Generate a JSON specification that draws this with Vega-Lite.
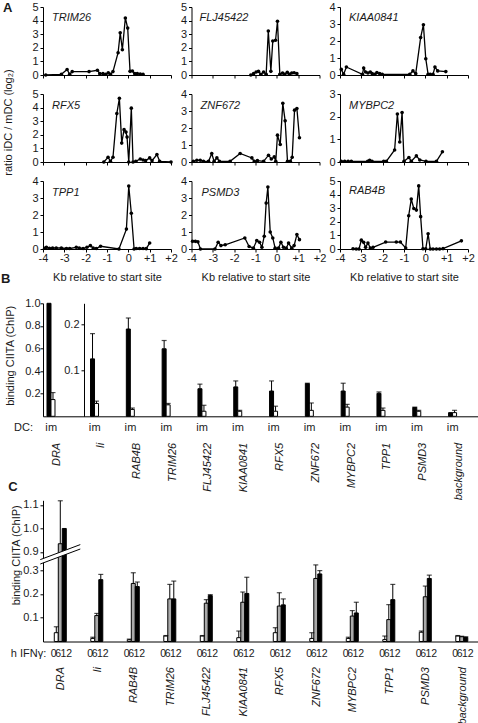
{
"$schema":"https://vega.github.io/schema/vega-lite/v6.json",
"padding":{"left":0,"top":1,"right":0,"bottom":0},
"background":"white",
"datasets":{
"names":[{"gene":"TRIM26"},{"gene":"FLJ45422"},{"gene":"KIAA0841"},{"gene":"RFX5"},{"gene":"ZNF672"},{"gene":"MYBPC2"},{"gene":"TPP1"},{"gene":"PSMD3"},{"gene":"RAB4B"}],
"lines":[
{"gene":"TRIM26","kb":-3.87,"r":0},{"gene":"TRIM26","kb":-3.14,"r":0.05},{"gene":"TRIM26","kb":-2.87,"r":0.4},{"gene":"TRIM26","kb":-2.75,"r":0.05},{"gene":"TRIM26","kb":-2.63,"r":0.25},{"gene":"TRIM26","kb":-1.84,"r":0.25},{"gene":"TRIM26","kb":-1.45,"r":0.35},{"gene":"TRIM26","kb":-1.34,"r":0.1},{"gene":"TRIM26","kb":-1.19,"r":0.1},{"gene":"TRIM26","kb":-1.06,"r":0.05},{"gene":"TRIM26","kb":-0.94,"r":0.17},{"gene":"TRIM26","kb":-0.84,"r":0.05},{"gene":"TRIM26","kb":-0.72,"r":0.25},{"gene":"TRIM26","kb":-0.48,"r":1.64},{"gene":"TRIM26","kb":-0.38,"r":3.1},{"gene":"TRIM26","kb":-0.28,"r":1.86},{"gene":"TRIM26","kb":-0.14,"r":4.19},{"gene":"TRIM26","kb":-0.03,"r":3.45},{"gene":"TRIM26","kb":0.08,"r":0.27},{"gene":"TRIM26","kb":0.19,"r":0.29},{"gene":"TRIM26","kb":0.3,"r":0.1},{"gene":"TRIM26","kb":0.42,"r":0.1},{"gene":"TRIM26","kb":0.56,"r":0.07},{"gene":"TRIM26","kb":0.69,"r":0.05},
{"gene":"FLJ45422","kb":-1.22,"r":0},{"gene":"FLJ45422","kb":-1.09,"r":0.1},{"gene":"FLJ45422","kb":-0.97,"r":0.22},{"gene":"FLJ45422","kb":-0.86,"r":0.27},{"gene":"FLJ45422","kb":-0.75,"r":0.05},{"gene":"FLJ45422","kb":-0.62,"r":0.22},{"gene":"FLJ45422","kb":-0.5,"r":0.05},{"gene":"FLJ45422","kb":-0.4,"r":3.24},{"gene":"FLJ45422","kb":-0.28,"r":0.27},{"gene":"FLJ45422","kb":-0.19,"r":2.5},{"gene":"FLJ45422","kb":-0.06,"r":2.55},{"gene":"FLJ45422","kb":0.03,"r":3.95},{"gene":"FLJ45422","kb":0.14,"r":0.05},{"gene":"FLJ45422","kb":0.27,"r":0.15},{"gene":"FLJ45422","kb":0.37,"r":0.05},{"gene":"FLJ45422","kb":0.49,"r":0.2},{"gene":"FLJ45422","kb":0.59,"r":0.05},{"gene":"FLJ45422","kb":0.7,"r":0.15},{"gene":"FLJ45422","kb":0.81,"r":0.17},{"gene":"FLJ45422","kb":0.94,"r":0.1},
{"gene":"KIAA0841","kb":-3.94,"r":0.33},{"gene":"KIAA0841","kb":-3.83,"r":0.04},{"gene":"KIAA0841","kb":-3.7,"r":0.47},{"gene":"KIAA0841","kb":-2.95,"r":0.04},{"gene":"KIAA0841","kb":-2.89,"r":0.41},{"gene":"KIAA0841","kb":-2.8,"r":0.18},{"gene":"KIAA0841","kb":-2.69,"r":0.12},{"gene":"KIAA0841","kb":-2.58,"r":0.18},{"gene":"KIAA0841","kb":-2.49,"r":0.08},{"gene":"KIAA0841","kb":-2.37,"r":0.04},{"gene":"KIAA0841","kb":-2.27,"r":0.14},{"gene":"KIAA0841","kb":-2.14,"r":0.08},{"gene":"KIAA0841","kb":-2.02,"r":0.04},{"gene":"KIAA0841","kb":-0.73,"r":0.04},{"gene":"KIAA0841","kb":-0.58,"r":0.24},{"gene":"KIAA0841","kb":-0.45,"r":0.08},{"gene":"KIAA0841","kb":-0.22,"r":2.2},{"gene":"KIAA0841","kb":-0.09,"r":2.96},{"gene":"KIAA0841","kb":0.02,"r":0.96},{"gene":"KIAA0841","kb":0.13,"r":0.04},{"gene":"KIAA0841","kb":0.23,"r":0.04},{"gene":"KIAA0841","kb":0.36,"r":0.04},{"gene":"KIAA0841","kb":0.45,"r":0.47},{"gene":"KIAA0841","kb":0.58,"r":0.24},{"gene":"KIAA0841","kb":0.96,"r":0.2},
{"gene":"RFX5","kb":-1.15,"r":0},{"gene":"RFX5","kb":-0.95,"r":0.35},{"gene":"RFX5","kb":-0.84,"r":0.05},{"gene":"RFX5","kb":-0.72,"r":0.35},{"gene":"RFX5","kb":-0.54,"r":3.56},{"gene":"RFX5","kb":-0.42,"r":4.68},{"gene":"RFX5","kb":-0.31,"r":1.39},{"gene":"RFX5","kb":-0.2,"r":2.38},{"gene":"RFX5","kb":-0.11,"r":2.2},{"gene":"RFX5","kb":-0.06,"r":1.83},{"gene":"RFX5","kb":0.02,"r":0},{"gene":"RFX5","kb":0.14,"r":3.96},{"gene":"RFX5","kb":0.22,"r":0},{"gene":"RFX5","kb":0.35,"r":0.05},{"gene":"RFX5","kb":0.56,"r":0.22},{"gene":"RFX5","kb":0.69,"r":0.15},{"gene":"RFX5","kb":0.81,"r":0.1},{"gene":"RFX5","kb":1.0,"r":0.3},{"gene":"RFX5","kb":1.11,"r":0.1},{"gene":"RFX5","kb":1.34,"r":0.55},{"gene":"RFX5","kb":1.47,"r":0.05},{"gene":"RFX5","kb":2.0,"r":0},
{"gene":"ZNF672","kb":-3.91,"r":0.04},{"gene":"ZNF672","kb":-3.75,"r":0.1},{"gene":"ZNF672","kb":-3.59,"r":0.1},{"gene":"ZNF672","kb":-3.44,"r":0.04},{"gene":"ZNF672","kb":-3.2,"r":0.04},{"gene":"ZNF672","kb":-3.05,"r":0.5},{"gene":"ZNF672","kb":-2.94,"r":0.04},{"gene":"ZNF672","kb":-2.81,"r":0.24},{"gene":"ZNF672","kb":-2.69,"r":0.04},{"gene":"ZNF672","kb":-2.19,"r":0.04},{"gene":"ZNF672","kb":-1.72,"r":0.5},{"gene":"ZNF672","kb":-1.17,"r":0.24},{"gene":"ZNF672","kb":-1.06,"r":0.04},{"gene":"ZNF672","kb":-0.91,"r":0.08},{"gene":"ZNF672","kb":-0.62,"r":0.04},{"gene":"ZNF672","kb":-0.39,"r":0.4},{"gene":"ZNF672","kb":-0.26,"r":0.18},{"gene":"ZNF672","kb":-0.12,"r":0.3},{"gene":"ZNF672","kb":-0.05,"r":0.04},{"gene":"ZNF672","kb":0.03,"r":1.58},{"gene":"ZNF672","kb":0.16,"r":1.03},{"gene":"ZNF672","kb":0.28,"r":3.45},{"gene":"ZNF672","kb":0.39,"r":2.42},{"gene":"ZNF672","kb":0.5,"r":0.04},{"gene":"ZNF672","kb":0.63,"r":0.04},{"gene":"ZNF672","kb":0.72,"r":0.28},{"gene":"ZNF672","kb":0.83,"r":3.05},{"gene":"ZNF672","kb":0.94,"r":3.15},{"gene":"ZNF672","kb":1.06,"r":1.43},
{"gene":"MYBPC2","kb":-3.94,"r":0.03},{"gene":"MYBPC2","kb":-3.78,"r":0.03},{"gene":"MYBPC2","kb":-3.62,"r":0.03},{"gene":"MYBPC2","kb":-3.47,"r":0.03},{"gene":"MYBPC2","kb":-2.7,"r":0.03},{"gene":"MYBPC2","kb":-2.61,"r":0.08},{"gene":"MYBPC2","kb":-2.5,"r":0.03},{"gene":"MYBPC2","kb":-1.95,"r":0.03},{"gene":"MYBPC2","kb":-1.83,"r":0.03},{"gene":"MYBPC2","kb":-1.44,"r":0.53},{"gene":"MYBPC2","kb":-1.31,"r":2.12},{"gene":"MYBPC2","kb":-1.2,"r":0.88},{"gene":"MYBPC2","kb":-1.09,"r":2.18},{"gene":"MYBPC2","kb":-1.0,"r":0.03},{"gene":"MYBPC2","kb":-0.77,"r":0.2},{"gene":"MYBPC2","kb":-0.66,"r":0.03},{"gene":"MYBPC2","kb":-0.42,"r":0.27},{"gene":"MYBPC2","kb":-0.26,"r":0.09},{"gene":"MYBPC2","kb":0.03,"r":0.03},{"gene":"MYBPC2","kb":0.52,"r":0.03},{"gene":"MYBPC2","kb":0.8,"r":0.45},
{"gene":"TPP1","kb":-3.92,"r":0.04},{"gene":"TPP1","kb":-3.84,"r":0.1},{"gene":"TPP1","kb":-3.7,"r":0.04},{"gene":"TPP1","kb":-3.55,"r":0.06},{"gene":"TPP1","kb":-3.38,"r":0.06},{"gene":"TPP1","kb":-3.14,"r":0.06},{"gene":"TPP1","kb":-2.9,"r":0.03},{"gene":"TPP1","kb":-2.75,"r":0.03},{"gene":"TPP1","kb":-2.44,"r":0.1},{"gene":"TPP1","kb":-2.3,"r":0.06},{"gene":"TPP1","kb":-2.12,"r":0.03},{"gene":"TPP1","kb":-1.94,"r":0.1},{"gene":"TPP1","kb":-1.78,"r":0.2},{"gene":"TPP1","kb":-1.65,"r":0.06},{"gene":"TPP1","kb":-1.5,"r":0.03},{"gene":"TPP1","kb":-1.3,"r":0.16},{"gene":"TPP1","kb":-0.44,"r":0},{"gene":"TPP1","kb":-0.09,"r":1.17},{"gene":"TPP1","kb":0.02,"r":3.7},{"gene":"TPP1","kb":0.14,"r":2.1},{"gene":"TPP1","kb":0.27,"r":0},{"gene":"TPP1","kb":0.37,"r":0.03},{"gene":"TPP1","kb":0.53,"r":0.03},{"gene":"TPP1","kb":0.69,"r":0.03},{"gene":"TPP1","kb":0.84,"r":0.02},{"gene":"TPP1","kb":1.0,"r":0.35},
{"gene":"PSMD3","kb":-3.95,"r":0.45},{"gene":"PSMD3","kb":-3.82,"r":0.45},{"gene":"PSMD3","kb":-3.7,"r":0.42},{"gene":"PSMD3","kb":-3.58,"r":0},{"gene":"PSMD3","kb":-2.9,"r":0},{"gene":"PSMD3","kb":-2.75,"r":0.4},{"gene":"PSMD3","kb":-2.62,"r":0.2},{"gene":"PSMD3","kb":-2.42,"r":0.25},{"gene":"PSMD3","kb":-1.5,"r":0.65},{"gene":"PSMD3","kb":-1.3,"r":0.15},{"gene":"PSMD3","kb":-1.1,"r":0.05},{"gene":"PSMD3","kb":-0.94,"r":0.5},{"gene":"PSMD3","kb":-0.81,"r":0.4},{"gene":"PSMD3","kb":-0.7,"r":0.1},{"gene":"PSMD3","kb":-0.59,"r":0.75},{"gene":"PSMD3","kb":-0.5,"r":2.7},{"gene":"PSMD3","kb":-0.42,"r":3.65},{"gene":"PSMD3","kb":-0.31,"r":1.0},{"gene":"PSMD3","kb":-0.19,"r":0.65},{"gene":"PSMD3","kb":-0.08,"r":0.05},{"gene":"PSMD3","kb":0.08,"r":0.05},{"gene":"PSMD3","kb":0.19,"r":0.4},{"gene":"PSMD3","kb":0.31,"r":0.1},{"gene":"PSMD3","kb":0.44,"r":0.05},{"gene":"PSMD3","kb":0.55,"r":0.35},{"gene":"PSMD3","kb":0.7,"r":0.05},{"gene":"PSMD3","kb":0.81,"r":0.2},{"gene":"PSMD3","kb":0.94,"r":0.85},{"gene":"PSMD3","kb":1.06,"r":0.55},
{"gene":"RAB4B","kb":-3.39,"r":0.02},{"gene":"RAB4B","kb":-3.24,"r":0},{"gene":"RAB4B","kb":-3.11,"r":0},{"gene":"RAB4B","kb":-3.0,"r":0.65},{"gene":"RAB4B","kb":-2.89,"r":0.49},{"gene":"RAB4B","kb":-2.8,"r":0.12},{"gene":"RAB4B","kb":-2.69,"r":0.44},{"gene":"RAB4B","kb":-2.58,"r":0.07},{"gene":"RAB4B","kb":-2.45,"r":0.12},{"gene":"RAB4B","kb":-1.86,"r":0.51},{"gene":"RAB4B","kb":-1.36,"r":0.51},{"gene":"RAB4B","kb":-1.17,"r":0.51},{"gene":"RAB4B","kb":-0.92,"r":0.07},{"gene":"RAB4B","kb":-0.78,"r":2.45},{"gene":"RAB4B","kb":-0.66,"r":3.67},{"gene":"RAB4B","kb":-0.54,"r":2.98},{"gene":"RAB4B","kb":-0.42,"r":2.86},{"gene":"RAB4B","kb":-0.31,"r":4.64},{"gene":"RAB4B","kb":-0.22,"r":2.38},{"gene":"RAB4B","kb":-0.11,"r":0.02},{"gene":"RAB4B","kb":0.02,"r":0.02},{"gene":"RAB4B","kb":0.13,"r":1.12},{"gene":"RAB4B","kb":0.23,"r":0},{"gene":"RAB4B","kb":0.36,"r":0},{"gene":"RAB4B","kb":0.52,"r":0},{"gene":"RAB4B","kb":0.67,"r":0},{"gene":"RAB4B","kb":0.83,"r":0.03},{"gene":"RAB4B","kb":1.69,"r":0.6}
],
"b":[
{"gene":"DRA","dc":"i","v":1.0,"hi":null},{"gene":"DRA","dc":"m","v":0.148,"hi":0.21},
{"gene":"Ii","dc":"i","v":0.125,"hi":0.18},{"gene":"Ii","dc":"m","v":0.028,"hi":0.033},
{"gene":"RAB4B","dc":"i","v":0.19,"hi":0.214},{"gene":"RAB4B","dc":"m","v":0.015,"hi":0.018},
{"gene":"TRIM26","dc":"i","v":0.147,"hi":0.165},{"gene":"TRIM26","dc":"m","v":0.025,"hi":0.028},
{"gene":"FLJ45422","dc":"i","v":0.06,"hi":0.07},{"gene":"FLJ45422","dc":"m","v":0.011,"hi":0.024},
{"gene":"KIAA0841","dc":"i","v":0.064,"hi":0.077},{"gene":"KIAA0841","dc":"m","v":0.011,"hi":0.013},
{"gene":"RFX5","dc":"i","v":0.055,"hi":0.077},{"gene":"RFX5","dc":"m","v":0.011,"hi":0.022},
{"gene":"ZNF672","dc":"i","v":0.071,"hi":0.072},{"gene":"ZNF672","dc":"m","v":0.013,"hi":0.029},
{"gene":"MYBPC2","dc":"i","v":0.055,"hi":0.072},{"gene":"MYBPC2","dc":"m","v":0.02,"hi":0.026},
{"gene":"TPP1","dc":"i","v":0.05,"hi":0.053},{"gene":"TPP1","dc":"m","v":0.013,"hi":0.018},
{"gene":"PSMD3","dc":"i","v":0.019,"hi":0.02},{"gene":"PSMD3","dc":"m","v":0.011,"hi":0.013},
{"gene":"background","dc":"i","v":0.008,"hi":null},{"gene":"background","dc":"m","v":0.008,"hi":0.013}
],
"c":[
{"gene":"DRA","h":"0","v":0.037,"hi":0.062},{"gene":"DRA","h":"6","v":0.935,"hi":1.118},{"gene":"DRA","h":"12","v":1.0,"hi":null},
{"gene":"Ii","h":"0","v":0.013,"hi":0.018},{"gene":"Ii","h":"6","v":0.109,"hi":0.118},{"gene":"Ii","h":"12","v":0.26,"hi":0.282},
{"gene":"RAB4B","h":"0","v":0.007,"hi":0.01},{"gene":"RAB4B","h":"6","v":0.244,"hi":0.289},{"gene":"RAB4B","h":"12","v":0.231,"hi":0.25},
{"gene":"TRIM26","h":"0","v":0.023,"hi":0.025},{"gene":"TRIM26","h":"6","v":0.179,"hi":0.24},{"gene":"TRIM26","h":"12","v":0.179,"hi":0.254},
{"gene":"FLJ45422","h":"0","v":0.023,"hi":0.025},{"gene":"FLJ45422","h":"6","v":0.161,"hi":0.176},{"gene":"FLJ45422","h":"12","v":0.193,"hi":0.197},
{"gene":"KIAA0841","h":"0","v":0.016,"hi":0.044},{"gene":"KIAA0841","h":"6","v":0.165,"hi":0.208},{"gene":"KIAA0841","h":"12","v":0.202,"hi":0.27},
{"gene":"RFX5","h":"0","v":0.037,"hi":0.058},{"gene":"RFX5","h":"6","v":0.149,"hi":0.205},{"gene":"RFX5","h":"12","v":0.154,"hi":0.179},
{"gene":"ZNF672","h":"0","v":0.013,"hi":0.037},{"gene":"ZNF672","h":"6","v":0.265,"hi":0.322},{"gene":"ZNF672","h":"12","v":0.284,"hi":0.298},
{"gene":"MYBPC2","h":"0","v":0.013,"hi":0.018},{"gene":"MYBPC2","h":"6","v":0.107,"hi":0.13},{"gene":"MYBPC2","h":"12","v":0.12,"hi":0.165},
{"gene":"TPP1","h":"0","v":0.008,"hi":0.023},{"gene":"TPP1","h":"6","v":0.092,"hi":0.155},{"gene":"TPP1","h":"12","v":0.176,"hi":0.24},
{"gene":"PSMD3","h":"0","v":0.039,"hi":0.044},{"gene":"PSMD3","h":"6","v":0.188,"hi":0.233},{"gene":"PSMD3","h":"12","v":0.265,"hi":0.279},
{"gene":"background","h":"0","v":0.023,"hi":0.025},{"gene":"background","h":"6","v":0.02,"hi":0.022},{"gene":"background","h":"12","v":0.017,"hi":0.02}
]
},
"vconcat":[
{
"concat":[
{"width":128,"height":68,"layer":[
{"data":{"name":"lines"},"transform":[{"filter":"datum.gene==='TRIM26'"}],"mark":{"type":"line","color":"#000","strokeWidth":1.3,"point":{"filled":true,"size":13,"color":"#000"}},"encoding":{"x":{"field":"kb","type":"quantitative","scale":{"domain":[-4,2],"nice":false,"zero":false},"axis":{"values":[-4,-3,-2,-1,0,1,2],"labels":false,"title":null}},"y":{"field":"r","type":"quantitative","scale":{"domain":[0,5],"nice":false},"axis":{"values":[0,1,2,3,4,5],"format":"d","title":null}}}},
{"data":{"name":"names"},"transform":[{"filter":"datum.gene==='TRIM26'"}],"mark":{"type":"text","align":"left","baseline":"alphabetic","dx":9,"dy":14,"fontStyle":"italic"},"encoding":{"x":{"datum":-4,"type":"quantitative","scale":{"domain":[-4,2],"nice":false,"zero":false},"axis":{"values":[-4,-3,-2,-1,0,1,2],"labels":false,"title":null}},"y":{"datum":5,"type":"quantitative","scale":{"domain":[0,5],"nice":false},"axis":{"values":[0,1,2,3,4,5],"format":"d","title":null}},"text":{"field":"gene"}}},
{"data":{"name":"names"},"transform":[{"filter":"datum.gene==='TRIM26'"}],"mark":{"type":"text","align":"left","baseline":"alphabetic","dx":-40,"dy":5,"fontWeight":"bold","fontSize":13},"encoding":{"x":{"datum":-4,"type":"quantitative","scale":{"domain":[-4,2],"nice":false,"zero":false},"axis":{"values":[-4,-3,-2,-1,0,1,2],"labels":false,"title":null}},"y":{"datum":5,"type":"quantitative","scale":{"domain":[0,5],"nice":false},"axis":{"values":[0,1,2,3,4,5],"format":"d","title":null}},"text":{"value":"A"}}}
]},
{"width":128,"height":68,"layer":[
{"data":{"name":"lines"},"transform":[{"filter":"datum.gene==='FLJ45422'"}],"mark":{"type":"line","color":"#000","strokeWidth":1.3,"point":{"filled":true,"size":13,"color":"#000"}},"encoding":{"x":{"field":"kb","type":"quantitative","scale":{"domain":[-4,2],"nice":false,"zero":false},"axis":{"values":[-4,-3,-2,-1,0,1,2],"labels":false,"title":null}},"y":{"field":"r","type":"quantitative","scale":{"domain":[0,5],"nice":false},"axis":{"values":[0,1,2,3,4,5],"format":"d","title":null}}}},
{"data":{"name":"names"},"transform":[{"filter":"datum.gene==='FLJ45422'"}],"mark":{"type":"text","align":"left","baseline":"alphabetic","dx":8,"dy":14,"fontStyle":"italic"},"encoding":{"x":{"datum":-4,"type":"quantitative","scale":{"domain":[-4,2],"nice":false,"zero":false},"axis":{"values":[-4,-3,-2,-1,0,1,2],"labels":false,"title":null}},"y":{"datum":5,"type":"quantitative","scale":{"domain":[0,5],"nice":false},"axis":{"values":[0,1,2,3,4,5],"format":"d","title":null}},"text":{"field":"gene"}}}
]},
{"width":128,"height":68,"layer":[
{"data":{"name":"lines"},"transform":[{"filter":"datum.gene==='KIAA0841'"}],"mark":{"type":"line","color":"#000","strokeWidth":1.3,"point":{"filled":true,"size":13,"color":"#000"}},"encoding":{"x":{"field":"kb","type":"quantitative","scale":{"domain":[-4,2],"nice":false,"zero":false},"axis":{"values":[-4,-3,-2,-1,0,1,2],"labels":false,"title":null}},"y":{"field":"r","type":"quantitative","scale":{"domain":[0,4],"nice":false},"axis":{"values":[0,1,2,3,4],"format":"d","title":null}}}},
{"data":{"name":"names"},"transform":[{"filter":"datum.gene==='KIAA0841'"}],"mark":{"type":"text","align":"left","baseline":"alphabetic","dx":9,"dy":14,"fontStyle":"italic"},"encoding":{"x":{"datum":-4,"type":"quantitative","scale":{"domain":[-4,2],"nice":false,"zero":false},"axis":{"values":[-4,-3,-2,-1,0,1,2],"labels":false,"title":null}},"y":{"datum":4,"type":"quantitative","scale":{"domain":[0,4],"nice":false},"axis":{"values":[0,1,2,3,4],"format":"d","title":null}},"text":{"field":"gene"}}}
]},
{"width":128,"height":68,"layer":[
{"data":{"name":"lines"},"transform":[{"filter":"datum.gene==='RFX5'"}],"mark":{"type":"line","color":"#000","strokeWidth":1.3,"point":{"filled":true,"size":13,"color":"#000"}},"encoding":{"x":{"field":"kb","type":"quantitative","scale":{"domain":[-4,2],"nice":false,"zero":false},"axis":{"values":[-4,-3,-2,-1,0,1,2],"labels":false,"title":null}},"y":{"field":"r","type":"quantitative","scale":{"domain":[0,5],"nice":false},"axis":{"values":[0,1,2,3,4,5],"format":"d","title":"ratio iDC / mDC (log₂)","titlePadding":18.5,"titleY":28}}}},
{"data":{"name":"names"},"transform":[{"filter":"datum.gene==='RFX5'"}],"mark":{"type":"text","align":"left","baseline":"alphabetic","dx":9,"dy":15,"fontStyle":"italic"},"encoding":{"x":{"datum":-4,"type":"quantitative","scale":{"domain":[-4,2],"nice":false,"zero":false},"axis":{"values":[-4,-3,-2,-1,0,1,2],"labels":false,"title":null}},"y":{"datum":5,"type":"quantitative","scale":{"domain":[0,5],"nice":false},"axis":{"values":[0,1,2,3,4,5],"format":"d","title":"ratio iDC / mDC (log₂)","titlePadding":18.5,"titleY":28}},"text":{"field":"gene"}}}
]},
{"width":128,"height":68,"layer":[
{"data":{"name":"lines"},"transform":[{"filter":"datum.gene==='ZNF672'"}],"mark":{"type":"line","color":"#000","strokeWidth":1.3,"point":{"filled":true,"size":13,"color":"#000"}},"encoding":{"x":{"field":"kb","type":"quantitative","scale":{"domain":[-4,2],"nice":false,"zero":false},"axis":{"values":[-4,-3,-2,-1,0,1,2],"labels":false,"title":null}},"y":{"field":"r","type":"quantitative","scale":{"domain":[0,4],"nice":false},"axis":{"values":[0,1,2,3,4],"format":"d","title":null}}}},
{"data":{"name":"names"},"transform":[{"filter":"datum.gene==='ZNF672'"}],"mark":{"type":"text","align":"left","baseline":"alphabetic","dx":9,"dy":15,"fontStyle":"italic"},"encoding":{"x":{"datum":-4,"type":"quantitative","scale":{"domain":[-4,2],"nice":false,"zero":false},"axis":{"values":[-4,-3,-2,-1,0,1,2],"labels":false,"title":null}},"y":{"datum":4,"type":"quantitative","scale":{"domain":[0,4],"nice":false},"axis":{"values":[0,1,2,3,4],"format":"d","title":null}},"text":{"field":"gene"}}}
]},
{"width":128,"height":68,"layer":[
{"data":{"name":"lines"},"transform":[{"filter":"datum.gene==='MYBPC2'"}],"mark":{"type":"line","color":"#000","strokeWidth":1.3,"point":{"filled":true,"size":13,"color":"#000"}},"encoding":{"x":{"field":"kb","type":"quantitative","scale":{"domain":[-4,2],"nice":false,"zero":false},"axis":{"values":[-4,-3,-2,-1,0,1,2],"labels":false,"title":null}},"y":{"field":"r","type":"quantitative","scale":{"domain":[0,3],"nice":false},"axis":{"values":[0,1,2,3],"format":"d","title":null}}}},
{"data":{"name":"names"},"transform":[{"filter":"datum.gene==='MYBPC2'"}],"mark":{"type":"text","align":"left","baseline":"alphabetic","dx":9,"dy":15,"fontStyle":"italic"},"encoding":{"x":{"datum":-4,"type":"quantitative","scale":{"domain":[-4,2],"nice":false,"zero":false},"axis":{"values":[-4,-3,-2,-1,0,1,2],"labels":false,"title":null}},"y":{"datum":3,"type":"quantitative","scale":{"domain":[0,3],"nice":false},"axis":{"values":[0,1,2,3],"format":"d","title":null}},"text":{"field":"gene"}}}
]},
{"width":128,"height":68,"layer":[
{"data":{"name":"lines"},"transform":[{"filter":"datum.gene==='TPP1'"}],"mark":{"type":"line","color":"#000","strokeWidth":1.3,"point":{"filled":true,"size":13,"color":"#000"}},"encoding":{"x":{"field":"kb","type":"quantitative","scale":{"domain":[-4,2],"nice":false,"zero":false},"axis":{"values":[-4,-3,-2,-1,0,1,2],"labelExpr":"datum.value > 0 ? '+' + datum.value : '' + datum.value","title":"Kb relative to start site","titlePadding":8,"labelPadding":0}},"y":{"field":"r","type":"quantitative","scale":{"domain":[0,4],"nice":false},"axis":{"values":[0,1,2,3,4],"format":"d","title":null}}}},
{"data":{"name":"names"},"transform":[{"filter":"datum.gene==='TPP1'"}],"mark":{"type":"text","align":"left","baseline":"alphabetic","dx":9,"dy":15,"fontStyle":"italic"},"encoding":{"x":{"datum":-4,"type":"quantitative","scale":{"domain":[-4,2],"nice":false,"zero":false},"axis":{"values":[-4,-3,-2,-1,0,1,2],"labelExpr":"datum.value > 0 ? '+' + datum.value : '' + datum.value","title":"Kb relative to start site","titlePadding":8,"labelPadding":0}},"y":{"datum":4,"type":"quantitative","scale":{"domain":[0,4],"nice":false},"axis":{"values":[0,1,2,3,4],"format":"d","title":null}},"text":{"field":"gene"}}}
]},
{"width":128,"height":68,"layer":[
{"data":{"name":"lines"},"transform":[{"filter":"datum.gene==='PSMD3'"}],"mark":{"type":"line","color":"#000","strokeWidth":1.3,"point":{"filled":true,"size":13,"color":"#000"}},"encoding":{"x":{"field":"kb","type":"quantitative","scale":{"domain":[-4,2],"nice":false,"zero":false},"axis":{"values":[-4,-3,-2,-1,0,1,2],"labelExpr":"datum.value > 0 ? '+' + datum.value : '' + datum.value","title":"Kb relative to start site","titlePadding":8,"labelPadding":0}},"y":{"field":"r","type":"quantitative","scale":{"domain":[0,4],"nice":false},"axis":{"values":[0,1,2,3,4],"format":"d","title":null}}}},
{"data":{"name":"names"},"transform":[{"filter":"datum.gene==='PSMD3'"}],"mark":{"type":"text","align":"left","baseline":"alphabetic","dx":10,"dy":15,"fontStyle":"italic"},"encoding":{"x":{"datum":-4,"type":"quantitative","scale":{"domain":[-4,2],"nice":false,"zero":false},"axis":{"values":[-4,-3,-2,-1,0,1,2],"labelExpr":"datum.value > 0 ? '+' + datum.value : '' + datum.value","title":"Kb relative to start site","titlePadding":8,"labelPadding":0}},"y":{"datum":4,"type":"quantitative","scale":{"domain":[0,4],"nice":false},"axis":{"values":[0,1,2,3,4],"format":"d","title":null}},"text":{"field":"gene"}}}
]},
{"width":128,"height":68,"layer":[
{"data":{"name":"lines"},"transform":[{"filter":"datum.gene==='RAB4B'"}],"mark":{"type":"line","color":"#000","strokeWidth":1.3,"point":{"filled":true,"size":13,"color":"#000"}},"encoding":{"x":{"field":"kb","type":"quantitative","scale":{"domain":[-4,2],"nice":false,"zero":false},"axis":{"values":[-4,-3,-2,-1,0,1,2],"labelExpr":"datum.value > 0 ? '+' + datum.value : '' + datum.value","title":"Kb relative to start site","titlePadding":8,"labelPadding":0}},"y":{"field":"r","type":"quantitative","scale":{"domain":[0,5],"nice":false},"axis":{"values":[0,1,2,3,4,5],"format":"d","title":null}}}},
{"data":{"name":"names"},"transform":[{"filter":"datum.gene==='RAB4B'"}],"mark":{"type":"text","align":"left","baseline":"alphabetic","dx":9,"dy":13,"fontStyle":"italic"},"encoding":{"x":{"datum":-4,"type":"quantitative","scale":{"domain":[-4,2],"nice":false,"zero":false},"axis":{"values":[-4,-3,-2,-1,0,1,2],"labelExpr":"datum.value > 0 ? '+' + datum.value : '' + datum.value","title":"Kb relative to start site","titlePadding":8,"labelPadding":0}},"y":{"datum":5,"type":"quantitative","scale":{"domain":[0,5],"nice":false},"axis":{"values":[0,1,2,3,4,5],"format":"d","title":null}},"text":{"field":"gene"}}}
]}
],
"columns":3,"bounds":"flush","spacing":{"row":19,"column":20.5}
},
{
"vconcat":[
{
"hconcat":[
{"width":41,"height":113,
"data":{"name":"b"},
"transform":[{"filter":"datum.gene==='DRA'"}],
"encoding":{
"x":{"field":"gene","type":"nominal","scale":{"domain":["DRA"],"paddingInner":0,"paddingOuter":0.525,"align":0.19},"axis":{"title":null,"labelAngle":270,"labelFontStyle":"italic","ticks":false,"labelPadding":26}},
"xOffset":{"field":"dc","type":"nominal","scale":{"domain":["i","m"],"paddingInner":0,"paddingOuter":0}},
"y":{"field":"v","type":"quantitative","scale":{"domain":[0,1],"nice":false},"axis":{"values":[0.2,0.4,0.6,0.8,1.0],"format":".1f","title":"binding CIITA (ChIP)","titlePadding":9,"titleY":52,"labelPadding":0}}
},
"layer":[
{"mark":{"type":"bar","stroke":"#000","strokeWidth":1},"encoding":{"fill":{"field":"dc","type":"nominal","scale":{"domain":["i","m"],"range":["#000","#fff"]},"legend":null}}},
{"transform":[{"filter":"isValid(datum.hi)"}],"mark":{"type":"rule","color":"#000","strokeWidth":1},"encoding":{"y2":{"field":"hi"}}},
{"transform":[{"filter":"isValid(datum.hi)"}],"mark":{"type":"tick","color":"#000","thickness":1.2,"size":5},"encoding":{"y":{"field":"hi","type":"quantitative","scale":{"domain":[0,1],"nice":false},"axis":{"values":[0.2,0.4,0.6,0.8,1.0],"format":".1f","title":"binding CIITA (ChIP)","titlePadding":9,"titleY":52,"labelPadding":0}}}},
{"transform":[{"filter":"datum.dc==='i'"}],"mark":{"type":"text","baseline":"middle","dy":12,"dx":-2.5},"encoding":{"y":{"datum":0,"type":"quantitative","scale":{"domain":[0,1],"nice":false},"axis":{"values":[0.2,0.4,0.6,0.8,1.0],"format":".1f","title":"binding CIITA (ChIP)","titlePadding":9,"titleY":52,"labelPadding":0}},"text":{"field":"dc"}}},
{"transform":[{"filter":"datum.dc==='m'"}],"mark":{"type":"text","baseline":"middle","dy":12,"dx":-0.5},"encoding":{"y":{"datum":0,"type":"quantitative","scale":{"domain":[0,1],"nice":false},"axis":{"values":[0.2,0.4,0.6,0.8,1.0],"format":".1f","title":"binding CIITA (ChIP)","titlePadding":9,"titleY":52,"labelPadding":0}},"text":{"field":"dc"}}},
{"transform":[{"filter":"datum.dc==='i'"}],"mark":{"type":"text","baseline":"middle","align":"right","dy":12,"dx":-16},"encoding":{"y":{"datum":0,"type":"quantitative","scale":{"domain":[0,1],"nice":false},"axis":{"values":[0.2,0.4,0.6,0.8,1.0],"format":".1f","title":"binding CIITA (ChIP)","titlePadding":9,"titleY":52,"labelPadding":0}},"text":{"value":"DC:"}}},
{"transform":[{"filter":"datum.dc==='i'"}],"mark":{"type":"text","baseline":"alphabetic","align":"left","dy":-20.5,"dx":-48,"fontWeight":"bold","fontSize":13},"encoding":{"y":{"datum":1,"type":"quantitative","scale":{"domain":[0,1],"nice":false},"axis":{"values":[0.2,0.4,0.6,0.8,1.0],"format":".1f","title":"binding CIITA (ChIP)","titlePadding":9,"titleY":52,"labelPadding":0}},"text":{"value":"B"}}}
]},
{"width":396,"height":113,
"data":{"name":"b"},
"transform":[{"filter":"datum.gene!=='DRA'"}],
"encoding":{
"x":{"field":"gene","type":"nominal","scale":{"domain":["Ii","RAB4B","TRIM26","FLJ45422","KIAA0841","RFX5","ZNF672","MYBPC2","TPP1","PSMD3","background"],"paddingInner":0.42,"paddingOuter":0.24,"align":0.38},"axis":{"title":null,"labelAngle":270,"labelFontStyle":"italic","ticks":false,"labelPadding":26}},
"xOffset":{"field":"dc","type":"nominal","scale":{"domain":["i","m"],"paddingInner":0,"paddingOuter":0}},
"y":{"field":"v","type":"quantitative","scale":{"domain":[0,0.246],"nice":false},"axis":{"values":[0.1,0.2],"format":".1f","title":null}}
},
"layer":[
{"mark":{"type":"bar","stroke":"#000","strokeWidth":1},"encoding":{"fill":{"field":"dc","type":"nominal","scale":{"domain":["i","m"],"range":["#000","#fff"]},"legend":null}}},
{"transform":[{"filter":"isValid(datum.hi)"}],"mark":{"type":"rule","color":"#000","strokeWidth":1},"encoding":{"y2":{"field":"hi"}}},
{"transform":[{"filter":"isValid(datum.hi)"}],"mark":{"type":"tick","color":"#000","thickness":1.2,"size":5},"encoding":{"y":{"field":"hi","type":"quantitative","scale":{"domain":[0,0.246],"nice":false},"axis":{"values":[0.1,0.2],"format":".1f","title":null}}}},
{"transform":[{"filter":"datum.dc==='i'"}],"mark":{"type":"text","baseline":"middle","dy":12,"dx":-2.5},"encoding":{"y":{"datum":0,"type":"quantitative","scale":{"domain":[0,0.246],"nice":false},"axis":{"values":[0.1,0.2],"format":".1f","title":null}},"text":{"field":"dc"}}},
{"transform":[{"filter":"datum.dc==='m'"}],"mark":{"type":"text","baseline":"middle","dy":12,"dx":-0.5},"encoding":{"y":{"datum":0,"type":"quantitative","scale":{"domain":[0,0.246],"nice":false},"axis":{"values":[0.1,0.2],"format":".1f","title":null}},"text":{"field":"dc"}}}
]}
],
"spacing":0,"bounds":"flush","resolve":{"scale":{"x":"independent","y":"independent"}}
},
{"width":438,"height":141.2,
"data":{"name":"c"},
"encoding":{
"x":{"field":"gene","type":"nominal","scale":{"domain":["DRA","Ii","RAB4B","TRIM26","FLJ45422","KIAA0841","RFX5","ZNF672","MYBPC2","TPP1","PSMD3","background"],"paddingInner":0.18,"paddingOuter":0.09},"axis":{"title":null,"labelAngle":270,"labelFontStyle":"italic","ticks":false,"labelPadding":25}},
"xOffset":{"field":"h","type":"nominal","scale":{"domain":["0","6","12"],"paddingInner":0,"paddingOuter":0}},
"y":{"field":"v","type":"quantitative","scale":{"domain":[0,0.33,0.87,1.12],"range":[141.2,62.7,58.7,0],"nice":false,"zero":false},"axis":{"values":[0.1,0.2,0.3,0.9,1.0,1.1],"format":".1f","title":"binding CIITA (ChIP)","titlePadding":1,"titleY":54.5}}
},
"layer":[
{"mark":{"type":"bar","stroke":"#000","strokeWidth":1},"encoding":{"color":{"field":"h","type":"nominal","scale":{"domain":["0","6","12"],"range":["#ffffff","#aaaaaa","#000000"]},"legend":null}}},
{"transform":[{"filter":"isValid(datum.hi)"}],"mark":{"type":"rule","color":"#000","strokeWidth":1},"encoding":{"y2":{"field":"hi"}}},
{"transform":[{"filter":"isValid(datum.hi)"}],"mark":{"type":"tick","color":"#000","thickness":1.2,"size":5},"encoding":{"y":{"field":"hi","type":"quantitative","scale":{"domain":[0,0.33,0.87,1.12],"range":[141.2,62.7,58.7,0],"nice":false,"zero":false},"axis":{"values":[0.1,0.2,0.3,0.9,1.0,1.1],"format":".1f","title":"binding CIITA (ChIP)","titlePadding":1,"titleY":54.5}}}},
{"transform":[{"filter":"datum.h==='0'"}],"mark":{"type":"text","baseline":"middle","dy":12,"dx":-2.5,"fontSize":10.5},"encoding":{"y":{"datum":0,"type":"quantitative","scale":{"domain":[0,0.33,0.87,1.12],"range":[141.2,62.7,58.7,0],"nice":false,"zero":false},"axis":{"values":[0.1,0.2,0.3,0.9,1.0,1.1],"format":".1f","title":"binding CIITA (ChIP)","titlePadding":1,"titleY":54.5}},"text":{"field":"h"}}},
{"transform":[{"filter":"datum.h==='6'"}],"mark":{"type":"text","baseline":"middle","dy":12,"dx":-2,"fontSize":10.5},"encoding":{"y":{"datum":0,"type":"quantitative","scale":{"domain":[0,0.33,0.87,1.12],"range":[141.2,62.7,58.7,0],"nice":false,"zero":false},"axis":{"values":[0.1,0.2,0.3,0.9,1.0,1.1],"format":".1f","title":"binding CIITA (ChIP)","titlePadding":1,"titleY":54.5}},"text":{"field":"h"}}},
{"transform":[{"filter":"datum.h==='12'"}],"mark":{"type":"text","baseline":"middle","dy":12,"dx":2,"fontSize":10.5},"encoding":{"y":{"datum":0,"type":"quantitative","scale":{"domain":[0,0.33,0.87,1.12],"range":[141.2,62.7,58.7,0],"nice":false,"zero":false},"axis":{"values":[0.1,0.2,0.3,0.9,1.0,1.1],"format":".1f","title":"binding CIITA (ChIP)","titlePadding":1,"titleY":54.5}},"text":{"field":"h"}}},
{"transform":[{"filter":"datum.gene==='DRA' && datum.h==='0'"}],"mark":{"type":"text","baseline":"middle","align":"right","dy":12,"dx":-10},"encoding":{"y":{"datum":0,"type":"quantitative","scale":{"domain":[0,0.33,0.87,1.12],"range":[141.2,62.7,58.7,0],"nice":false,"zero":false},"axis":{"values":[0.1,0.2,0.3,0.9,1.0,1.1],"format":".1f","title":"binding CIITA (ChIP)","titlePadding":1,"titleY":54.5}},"text":{"value":"h IFNγ:"}}},
{"transform":[{"filter":"datum.gene==='DRA' && datum.h==='0'"}],"mark":{"type":"text","baseline":"alphabetic","align":"left","dy":-9.5,"dx":-48,"fontWeight":"bold","fontSize":13},"encoding":{"y":{"datum":1.12,"type":"quantitative","scale":{"domain":[0,0.33,0.87,1.12],"range":[141.2,62.7,58.7,0],"nice":false,"zero":false},"axis":{"values":[0.1,0.2,0.3,0.9,1.0,1.1],"format":".1f","title":"binding CIITA (ChIP)","titlePadding":1,"titleY":54.5}},"text":{"value":"C"}}},
{"transform":[{"filter":"datum.gene==='DRA' && datum.h==='6'"}],"mark":{"type":"point","shape":"M-1,0.265L1,-0.485L1,-0.265L-1,0.485Z","size":1600,"filled":true,"color":"#fff","strokeWidth":0,"opacity":1},"encoding":{"y":{"datum":0.89,"type":"quantitative","scale":{"domain":[0,0.33,0.87,1.12],"range":[141.2,62.7,58.7,0],"nice":false,"zero":false},"axis":{"values":[0.1,0.2,0.3,0.9,1.0,1.1],"format":".1f","title":"binding CIITA (ChIP)","titlePadding":1,"titleY":54.5}}}},
{"transform":[{"filter":"datum.gene==='DRA' && datum.h==='6'"}],"mark":{"type":"point","shape":"M-1,0.265L1,-0.485M-1,0.485L1,-0.265","size":1600,"filled":false,"color":"#000","strokeWidth":1,"opacity":1},"encoding":{"y":{"datum":0.89,"type":"quantitative","scale":{"domain":[0,0.33,0.87,1.12],"range":[141.2,62.7,58.7,0],"nice":false,"zero":false},"axis":{"values":[0.1,0.2,0.3,0.9,1.0,1.1],"format":".1f","title":"binding CIITA (ChIP)","titlePadding":1,"titleY":54.5}}}}
]}
],
"spacing":-23
}
],
"spacing":-9.7,
"config":{
"font":"Liberation Sans",
"view":{"stroke":null},
"axis":{"labelFont":"Liberation Sans","titleFont":"Liberation Sans","labelFontSize":11,"titleFontSize":11,"titleFontWeight":"normal","labelColor":"#1a1a1a","titleColor":"#1a1a1a","domainColor":"#000","tickColor":"#000","domainWidth":1,"tickWidth":1,"grid":false,"tickSize":3,"labelPadding":2,"labelFlush":false,"labelOverlap":false},
"text":{"font":"Liberation Sans","fontSize":11,"color":"#1a1a1a"}
}
}
